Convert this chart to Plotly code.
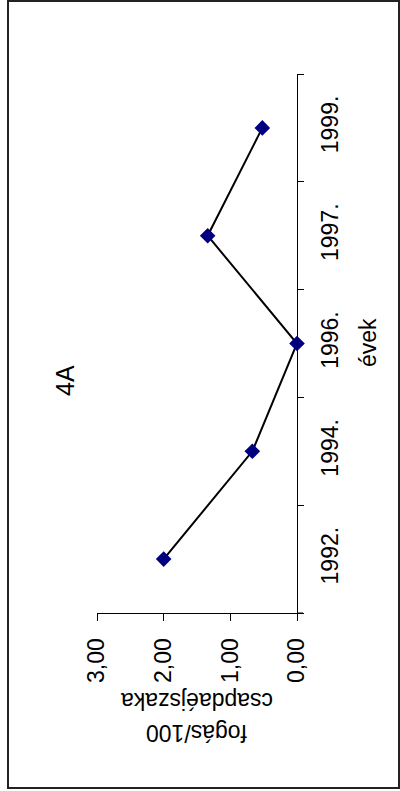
# -*- coding: utf-8 -*-
#-------------------------------------------------------
### IMPORTS ###

import plotly.graph_objects as go


#-------------------------------------------------------
### DATA ###

years = ['1992.', '1994.', '1996.', '1997.', '1999.']
catch = [2.00, 0.67, 0.00, 1.34, 0.52]
value_ticks = [0, 1, 2, 3]

title_text = '4A'
cat_title = 'évek'
val_title = ['fogás/100', 'csapdaéjszaka']


#-------------------------------------------------------
### FIGURE ###

W, H = 400, 791
L, R, T, B = 97, 297, 74, 613          # plot area in pixels

def px(x):
    return (x - L) / (R - L)

def py(y):
    return (B - y) / (B - T)

font = 'Liberation Sans, Arial, sans-serif'

fig = go.Figure(go.Scatter(x=catch, y=years,
                           mode='lines+markers',
                           line=dict(color='black', width=2),
                           marker=dict(symbol='diamond', size=12, color='#000080'),
                           cliponaxis=False))

fig.update_layout(width=W, height=H,
                  margin=dict(l=L, r=W - R, t=T, b=H - B),
                  plot_bgcolor='white', paper_bgcolor='white',
                  separators=', ',
                  showlegend=False,
                  font=dict(family=font, size=23, color='black'))

fig.update_xaxes(range=[3, 0], tickvals=value_ticks, tickformat='.2f',
                 showline=True, linecolor='black', linewidth=1,
                 ticks='outside', ticklen=7, tickcolor='black',
                 tickangle=-90, ticklabelstandoff=8,
                 showgrid=False, zeroline=False)

fig.update_yaxes(type='category', categoryorder='array', categoryarray=years,
                 range=[-0.5, 4.5], side='right',
                 showline=True, linecolor='black', linewidth=1,
                 ticks='outside', ticklen=6, tickcolor='black',
                 tickson='boundaries', tickangle=-90, ticklabelstandoff=12,
                 showgrid=False, zeroline=False)

# outer chart border
fig.add_shape(type='rect', xref='paper', yref='paper',
              x0=px(8), x1=px(399), y0=py(788), y1=py(1),
              line=dict(color='#222', width=2))
# value axis line runs on past the category axis
fig.add_shape(type='line', xref='paper', yref='paper',
              x0=px(297), x1=px(303), y0=0, y1=0,
              line=dict(color='black', width=1))

# titles, rotated like the original
fig.add_annotation(text=title_text, xref='paper', yref='paper',
                   x=px(65), y=py(381), textangle=-90, showarrow=False,
                   xanchor='center', yanchor='middle', font=dict(size=25))
fig.add_annotation(text=cat_title, xref='paper', yref='paper',
                   x=px(368), y=py(343), textangle=-90, showarrow=False,
                   xanchor='center', yanchor='middle')
fig.add_annotation(text=val_title[0], xref='paper', yref='paper',
                   x=px(197), y=py(733), textangle=180, showarrow=False,
                   xanchor='center', yanchor='middle')
fig.add_annotation(text=val_title[1], xref='paper', yref='paper',
                   x=px(197), y=py(701), textangle=180, showarrow=False,
                   xanchor='center', yanchor='middle')


#-------------------------------------------------------
### PLOT ###

fig.write_html('out.html',
               config={'displayModeBar': False},
               post_script="document.body.style.margin='0';")
